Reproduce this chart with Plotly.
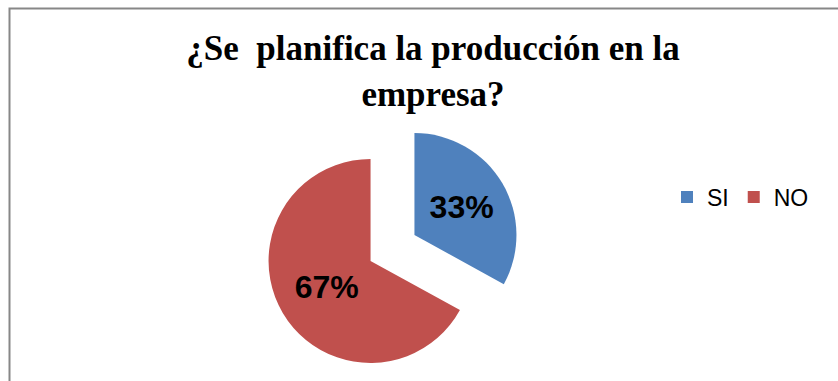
import plotly.graph_objects as go

labels = ["SI", "NO"]
values = [33, 67]
colors = ["#4F81BD", "#C0504D"]
title_text = "¿Se  planifica la producción en la<br>empresa?"

W, H = 838, 381

# pie geometry (pixels)
cx, cy, r, pull = 392.5, 248.0, 102.0, 0.25
half = r * (1 + pull)

fig = go.Figure(go.Pie(
    labels=labels,
    values=values,
    marker=dict(colors=colors, line=dict(width=0)),
    sort=False,
    direction="clockwise",
    rotation=0,
    pull=[pull, pull],
    textinfo="percent",
    textposition="inside",
    insidetextorientation="horizontal",
    textfont=dict(family="Liberation Sans", size=32, color="#000000", weight="bold"),
    domain=dict(x=[(cx - half) / W, (cx + half) / W],
                y=[1 - (cy + half) / H, 1 - (cy - half) / H]),
    hoverinfo="label+percent",
))

fig.update_layout(
    width=W, height=H,
    margin=dict(l=0, r=0, t=0, b=0),
    paper_bgcolor="white",
    plot_bgcolor="white",
    title=dict(text=title_text, x=433 / W, xanchor="center", y=1 - 60 / H, yanchor="bottom",
               yref="paper",
               font=dict(family="Liberation Serif", size=35, color="#000000", weight="bold")),
    legend=dict(orientation="h", x=667 / W, xanchor="left", y=1 - 197 / H, yanchor="middle",
                font=dict(family="Liberation Sans", size=23, color="#000000"),
                bgcolor="rgba(0,0,0,0)"),
    shapes=[dict(type="rect", xref="paper", yref="paper",
                 x0=9.5 / W, x1=1.2, y0=-0.2, y1=1 - 8.5 / H,
                 line=dict(color="#878787", width=2), fillcolor="rgba(0,0,0,0)", layer="below")],
)

fig.write_html("out.html")
